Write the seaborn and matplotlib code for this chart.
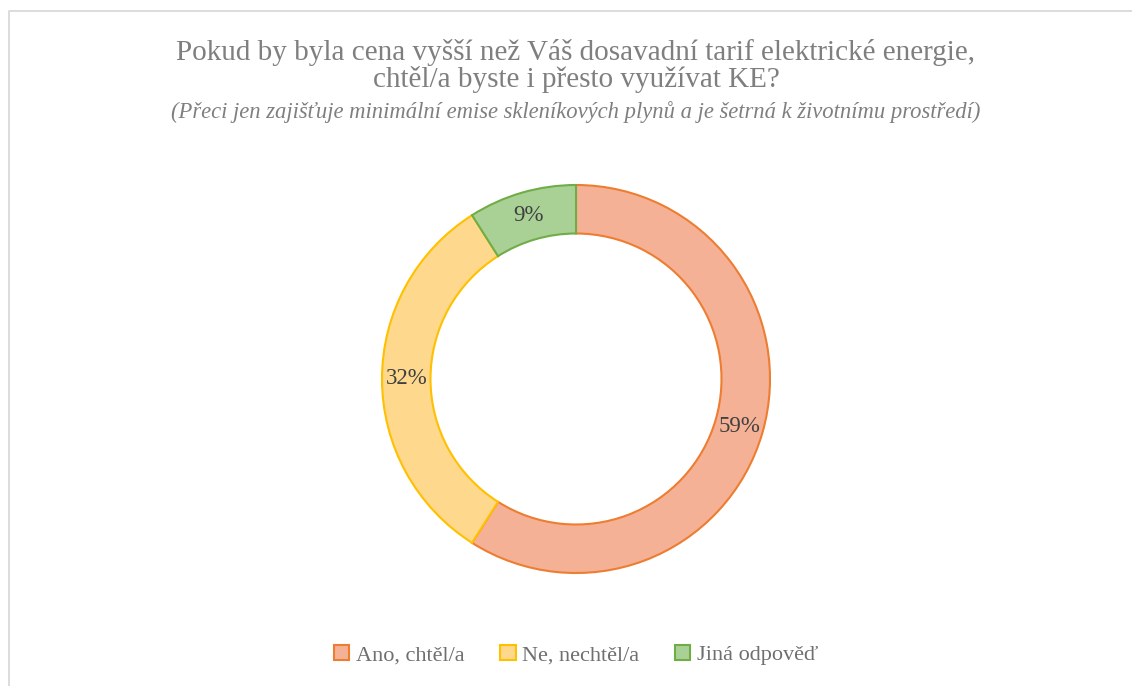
import matplotlib
matplotlib.use("Agg")
import matplotlib.pyplot as plt
import seaborn as sns
import numpy as np
from matplotlib.patches import Patch
from matplotlib.lines import Line2D

categories = ["Ano, chtěl/a", "Ne, nechtěl/a", "Jiná odpověď"]
values = [59, 32, 9]
labels = ["59%", "32%", "9%"]
fill_colors = ["#F5B195", "#FED88D", "#A9D195"]
edge_colors = ["#ED7D31", "#FFC000", "#70AD47"]

title = "Pokud by byla cena vyšší než Váš dosavadní tarif elektrické energie,\nchtěl/a byste i přesto využívat KE?"
subtitle = "(Přeci jen zajišťuje minimální emise skleníkových plynů a je šetrná k životnímu prostředí)"

sns.set_theme(style="white")
plt.rcParams['font.family'] = ['Liberation Serif', 'DejaVu Serif']

W, H = 1132, 686
fig = plt.figure(figsize=(W / 100, H / 100), dpi=100)
fig.patch.set_facecolor("white")

# chart border (top and left edges visible)
fig.lines.append(Line2D([8.5 / W, 8.5 / W, 1.0], [0, 1 - 11 / H, 1 - 11 / H], transform=fig.transFigure,
                        color="#D9D9D9", linewidth=1.3))

cx, cy, r = 576, 379, 194
ax = fig.add_axes([(cx - r) / W, (H - cy - r) / H, 2 * r / W, 2 * r / H])
width = 0.25
wedges, _ = ax.pie(values, colors=fill_colors, startangle=90, counterclock=False,
                   radius=1, wedgeprops=dict(width=width, linewidth=1.5))
for w, ec in zip(wedges, edge_colors):
    w.set_edgecolor(ec)

for w, lab in zip(wedges, labels):
    ang = np.deg2rad((w.theta1 + w.theta2) / 2)
    rr = 1 - width / 2
    ax.text(rr * np.cos(ang), rr * np.sin(ang), lab, ha="center", va="center",
            fontsize=16.5, color="#404040")
ax.set_xlim(-1, 1)
ax.set_ylim(-1, 1)
ax.set_aspect("equal")
ax.axis("off")

fig.text(cx / W, 1 - 66 / H, title, ha="center", va="center", fontsize=21,
         color="#7F7F7F", linespacing=0.97)
fig.text(cx / W, 1 - 112 / H, subtitle, ha="center", va="center", fontsize=16.3,
         style="italic", color="#7F7F7F")

handles = [Patch(facecolor=f, edgecolor=e, linewidth=1.5) for f, e in zip(fill_colors, edge_colors)]
leg = fig.legend(handles, categories, loc="center", bbox_to_anchor=(cx / W, 1 - 655 / H), ncol=3,
                 frameon=False, fontsize=16, handlelength=0.7, handleheight=0.7,
                 handletextpad=0.3, columnspacing=1.6, labelcolor="#6F6F6F")

fig.savefig("out.png", dpi=100)
